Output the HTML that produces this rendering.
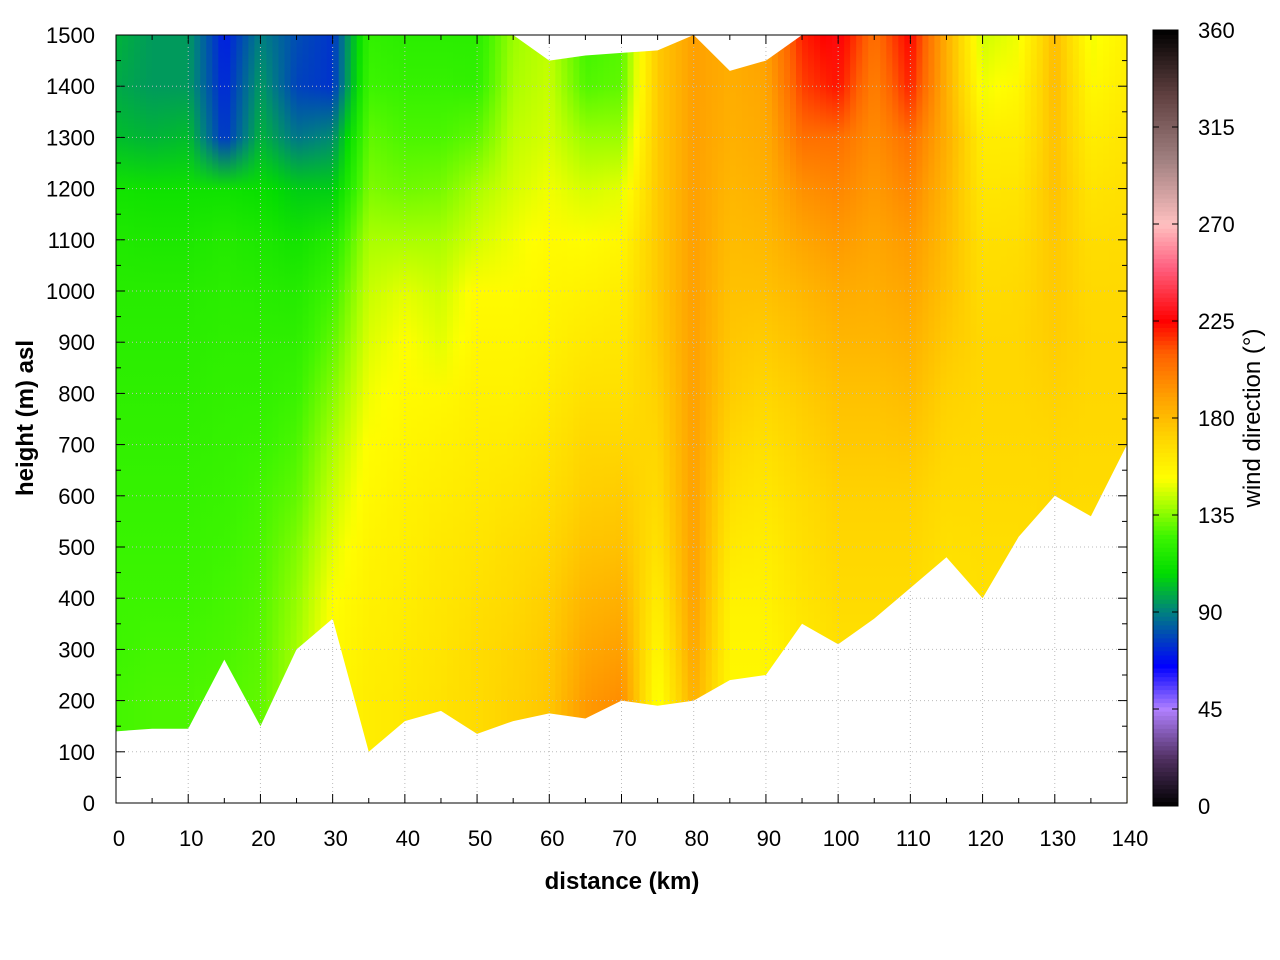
<!DOCTYPE html>
<html><head><meta charset="utf-8">
<style>
body{margin:0;background:#fff;}
svg{display:block;font-family:"Liberation Sans",sans-serif;}
</style></head>
<body>
<svg id="chart" width="1280" height="960"></svg>
<script>
// ---- data ----
const distances=[0,5,10,15,20,25,30,35,40,45,50,55,60,65,70,75,80,85,90,95,100,105,110,115,120,125,130,135,140];
const levels=[100,200,300,400,500,600,700,800,900,1000,1100,1200,1300,1400,1500];
// wind direction per distance column, from 100 m to 1500 m
const dir0=[126,126,125,125,124,123,122,121,120,119,117,113,102,98,100];
const dir5=[127,127,126,125,124,123,122,121,120,119,116,112,100,95,95];
const dir10=[127,127,126,125,124,123,122,121,120,119,116,112,102,95,95];
const dir15=[128,128,127,126,125,124,123,122,121,120,118,112,75,72,70];
const dir20=[130,130,129,128,127,126,124,122,121,119,116,110,100,95,90];
const dir25=[140,140,139,137,134,130,127,124,121,118,113,105,88,78,80];
const dir30=[155,155,154,152,148,144,140,135,130,125,118,105,92,75,75];
const dir35=[160,160,159,158,157,155,153,150,147,144,140,134,130,125,122];
const dir40=[162,162,161,160,159,158,156,154,152,148,140,132,127,123,120];
const dir45=[165,165,164,163,162,160,158,155,148,145,140,133,127,123,120];
const dir50=[168,168,168,166,164,162,160,158,156,154,146,140,130,122,120];
const dir55=[172,172,171,169,167,164,161,158,156,154,150,146,143,140,138];
const dir60=[176,176,175,173,170,167,164,161,158,156,154,150,146,144,143];
const dir65=[192,192,187,182,177,173,170,166,162,158,153,146,138,128,125];
const dir70=[196,196,190,184,178,174,170,166,163,160,156,148,138,130,128];
const dir75=[150,150,155,160,165,168,170,172,174,175,175,175,175,175,175];
const dir80=[182,185,188,190,190,190,190,190,190,190,190,190,190,190,190];
const dir85=[155,155,156,158,162,166,170,174,176,178,180,182,184,185,185];
const dir90=[155,155,156,158,160,163,166,170,174,178,181,184,186,188,190];
const dir95=[160,160,162,164,166,168,171,174,178,182,188,195,205,215,220];
const dir100=[165,165,166,168,170,172,175,178,182,186,192,198,205,222,228];
const dir105=[165,165,166,168,170,172,175,178,182,185,188,192,196,200,205];
const dir110=[165,165,166,168,170,172,176,180,184,188,192,198,205,220,225];
const dir115=[160,160,162,164,166,168,170,172,175,178,180,182,185,185,185];
const dir120=[165,165,165,166,167,168,169,170,170,168,166,163,160,150,145];
const dir125=[165,165,165,166,167,168,169,170,170,169,167,164,160,155,150];
const dir130=[168,168,168,168,168,169,170,172,174,175,176,178,178,180,180];
const dir135=[165,165,165,166,167,168,169,170,170,169,167,164,160,155,150];
const dir140=[165,165,165,166,167,168,169,170,170,169,168,166,164,160,158];
const directions=[dir0,dir5,dir10,dir15,dir20,dir25,dir30,dir35,dir40,dir45,dir50,dir55,dir60,dir65,dir70,dir75,dir80,dir85,dir90,dir95,dir100,dir105,dir110,dir115,dir120,dir125,dir130,dir135,dir140];
const terrain=[140,145,145,280,150,300,360,100,160,180,135,160,175,165,200,190,200,240,250,350,310,360,420,480,400,520,600,560,700];
const topHeight=[1500,1500,1500,1500,1500,1500,1500,1500,1500,1500,1500,1500,1450,1460,1465,1470,1500,1430,1450,1500,1500,1500,1500,1500,1500,1500,1500,1500,1500];
const yTicks=[0,100,200,300,400,500,600,700,800,900,1000,1100,1200,1300,1400,1500];
const xTicks=[0,10,20,30,40,50,60,70,80,90,100,110,120,130,140];
const cbTicks=[0,45,90,135,180,225,270,315,360];
// ---- layout ----
const L=116,R=1127,T=35,B=803;
const xs=d=>L+(R-L)*d/140;
const ys=h=>B-(B-T)*h/1500;
const cbL=1153,cbR=1178,cbT=30,cbB=806;
const cbY=v=>cbB-(cbB-cbT)*v/360;
const NS="http://www.w3.org/2000/svg";
const svg=document.getElementById('chart');
function mk(tag,attrs,parent){const e=document.createElementNS(NS,tag);for(const k in attrs)e.setAttribute(k,attrs[k]);(parent||svg).appendChild(e);return e;}
const stops=[[0,[0,0,0]],[22,[80,48,96]],[45,[176,128,255]],[65,[0,0,255]],[90,[0,128,128]],[108,[0,220,0]],[125,[60,245,0]],[140,[170,255,0]],[152,[255,255,0]],[170,[255,215,0]],[190,[255,160,0]],[210,[255,96,0]],[225,[255,0,0]],[250,[255,96,128]],[270,[255,192,192]],[300,[160,128,128]],[330,[96,64,64]],[360,[0,0,0]]];
function col(v){for(let i=1;i<stops.length;i++){if(v<=stops[i][0]){const a=stops[i-1],b=stops[i],t=(v-a[0])/(b[0]-a[0]);const c=a[1].map((x,j)=>Math.round(x+(b[1][j]-x)*t));return `rgb(${c[0]},${c[1]},${c[2]})`;}}return 'rgb(0,0,0)';}
const defs=mk('defs',{});
// ---- heatmap strips ----
const hm=mk('g',{});


const SUB=6;let gid=0;
for(let i=0;i<distances.length-1;i++){
  const x0=xs(distances[i]),x1=xs(distances[i+1]);
  for(let s=0;s<SUB;s++){
    const t=(s+0.5)/SUB;
    const g=mk('linearGradient',{id:'g'+gid,x1:0,y1:1,x2:0,y2:0},defs);
    const vals=levels.map((h,k)=>directions[i][k]*(1-t)+directions[i+1][k]*t);
    mk('stop',{offset:0,'stop-color':col(vals[0])},g);
    levels.forEach((h,k)=>mk('stop',{offset:h/1500,'stop-color':col(vals[k])},g));
    const r=mk('rect',{x:x0+(x1-x0)*s/SUB,y:T,width:(x1-x0)/SUB+0.6,height:B-T,fill:'url(#g'+gid+')'},hm);
    
    
    gid++;
  }
}
// terrain mask
let p=`M${L},${B+1} `+distances.map((d,i)=>`L${xs(d)},${ys(terrain[i])}`).join(' ')+` L${R},${B+1} Z`;
const tm=mk('path',{d:p,fill:'#fff'});


let q=`M${L},${T-1} `+distances.map((d,i)=>`L${xs(d)},${ys(topHeight[i])}`).join(' ')+` L${R},${T-1} Z`;
const tpm=mk('path',{d:q,fill:'#fff'});


// grid
const grid=mk('g',{stroke:'#bbb','stroke-width':1,'stroke-dasharray':'1,3'});


yTicks.forEach(v=>mk('line',{x1:L,x2:R,y1:ys(v),y2:ys(v)},grid));
xTicks.forEach(v=>mk('line',{x1:xs(v),x2:xs(v),y1:T,y2:B},grid));
// frame and ticks
const fr=mk('rect',{x:L,y:T,width:R-L,height:B-T,fill:'none',stroke:'#000','stroke-width':1});


const tk=mk('g',{stroke:'#000','stroke-width':1});
for(let v=0;v<=1500;v+=50){const big=v%100===0,l=big?9:5;mk('line',{x1:L,x2:L+l,y1:ys(v),y2:ys(v)},tk);mk('line',{x1:R,x2:R-l,y1:ys(v),y2:ys(v)},tk);}
for(let v=0;v<=140;v+=5){const big=v%10===0,l=big?9:5;mk('line',{x1:xs(v),x2:xs(v),y1:B,y2:B-l},tk);mk('line',{x1:xs(v),x2:xs(v),y1:T,y2:T+l},tk);}
yTicks.forEach(v=>{const t=mk('text',{x:95,y:ys(v)+8,'text-anchor':'end','font-size':22});t.textContent=v;

});
xTicks.forEach(v=>{const t=mk('text',{x:xs(v)+3,y:846,'text-anchor':'middle','font-size':22});t.textContent=v;

});
const xt=mk('text',{x:622,y:889,'text-anchor':'middle','font-size':24,'font-weight':'bold'});xt.textContent='distance (km)';


const yt=mk('text',{x:33,y:418,'text-anchor':'middle','font-size':24,'font-weight':'bold',transform:'rotate(-90 33 418)'});yt.textContent='height (m) asl';


// colorbar
const cb=mk('g',{});


for(let v=0;v<360;v+=2){mk('rect',{x:cbL,y:cbY(v+2),width:cbR-cbL,height:(cbB-cbT)*2/360+0.5,fill:col(v+1)},cb);}
mk('rect',{x:cbL,y:cbT,width:cbR-cbL,height:cbB-cbT,fill:'none',stroke:'#000'},cb);
cbTicks.forEach(v=>{mk('line',{x1:cbL,x2:cbL+6,y1:cbY(v),y2:cbY(v),stroke:'#000'},cb);mk('line',{x1:cbR,x2:cbR-6,y1:cbY(v),y2:cbY(v),stroke:'#000'},cb);
const t=mk('text',{x:1198,y:cbY(v)+8,'font-size':22},cb);t.textContent=v;

});
const ct=mk('text',{x:1260,y:418,'text-anchor':'middle','font-size':24,transform:'rotate(-90 1260 418)'});ct.textContent='wind direction (°)';


</script>
</body></html>
